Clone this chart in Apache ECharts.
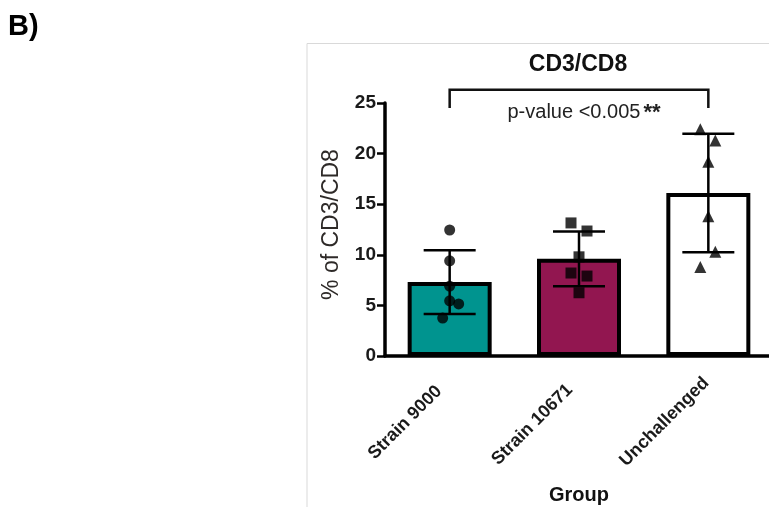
<!DOCTYPE html>
<html>
<head>
<meta charset="utf-8">
<script src="https://cdn.jsdelivr.net/npm/echarts@6/dist/echarts.min.js"></script>
<style>
  html, body { margin: 0; padding: 0; background: #fff; }
  #chart { width: 769px; height: 507px; }
</style>
</head>
<body>
<div id="chart"></div>
<script>
// Groups and summary statistics (% of CD3/CD8)
const categories = ['Strain 9000', 'Strain 10671', 'Unchallenged'];
const means = [7.3, 9.6, 16.1];
const sds = [3.15, 2.7, 5.85];

// Individual animals per group
const pointsStrain9000 = [12.45, 9.4, 6.9, 5.45, 5.15, 3.75];
const pointsStrain10671 = [13.15, 12.35, 9.8, 8.2, 7.9, 6.25];
const pointsUnchallenged = [22.4, 21.3, 19.2, 13.8, 10.3, 8.8];

// Axis ticks
const yTicks = [0, 5, 10, 15, 20, 25];

// Significance annotation between first and last group
const sigPair = [0, 2];
const sigText = 'p-value <0.005';
const sigStars = '**';

// Horizontal jitter (px) so overlapping dots stay visible
const jitter = [
  [0, 0, 0, 0, 9, -7],
  [-8, 8, 0, -8, 8, 0],
  [-8, 7, 0, 0, 7, -8]
];

const FONT = '"Liberation Sans", Arial, sans-serif';
const barColors = ['#00948f', '#921650', '#ffffff'];
// the last category label sits a little further out along its slant
const labelPad = [[0, 15, 0, 0], [0, 13, 0, 0], [0, 3, 0, 0]];

const chart = echarts.init(document.getElementById('chart'), null, { renderer: 'canvas' });

function pointSeries(values, gi, symbol, size) {
  return {
    type: 'scatter',
    symbol: symbol,
    symbolSize: size,
    z: 5,
    itemStyle: { color: '#000' },
    data: values.map((v, i) => ({ value: [gi, v], symbolOffset: [jitter[gi][i], 0] })),
    silent: true
  };
}

const option = {
  animation: false,
  backgroundColor: '#fff',
  grid: { left: 385, top: 103, width: 388, height: 253, containLabel: false, outerBoundsMode: 'none' },
  xAxis: {
    type: 'category',
    data: categories.map((c, i) => ({ value: c, textStyle: { padding: labelPad[i] } })),
    name: 'Group',
    nameLocation: 'middle',
    nameGap: 129,
    nameTextStyle: { fontFamily: FONT, fontSize: 20, fontWeight: 'bold', color: '#111' },
    axisLine: { lineStyle: { color: '#000', width: 3.5 } },
    axisTick: { alignWithLabel: true, length: 10, lineStyle: { color: '#000', width: 3 } },
    axisLabel: {
      rotate: 45,
      margin: 22,
      fontFamily: FONT, fontSize: 18, fontWeight: 'bold', color: '#1a1a1a'
    },
    splitLine: { show: false }
  },
  yAxis: {
    type: 'value',
    min: yTicks[0],
    max: yTicks[yTicks.length - 1],
    interval: yTicks[1] - yTicks[0],
    name: '% of CD3/CD8',
    nameLocation: 'middle',
    nameGap: 42,
    nameTextStyle: { fontFamily: FONT, fontSize: 23, color: '#2e2a28', padding: [0, 0, 0, 10] },
    axisLine: { show: true, lineStyle: { color: '#000', width: 3.5 } },
    axisTick: { show: true, length: 8, lineStyle: { color: '#000', width: 2.5 } },
    axisLabel: { margin: 9, fontFamily: FONT, fontSize: 19, fontWeight: 'bold', color: '#1a1a1a' },
    splitLine: { show: false }
  },
  series: [
    {
      type: 'bar',
      barWidth: 84,
      z: 2,
      data: means.map((m, i) => ({
        value: m,
        itemStyle: { color: barColors[i], borderColor: '#000', borderWidth: 4 }
      })),
      silent: true
    },
    {
      // mean ± SD whiskers
      type: 'custom',
      z: 4,
      silent: true,
      data: means.map((m, i) => [i, m, sds[i]]),
      renderItem: function (params, api) {
        const gi = api.value(0);
        const m = api.value(1);
        const sd = api.value(2);
        const top = api.coord([gi, m + sd]);
        const bot = api.coord([gi, m - sd]);
        const hw = 26;
        const st = { stroke: '#000', lineWidth: 2.5 };
        return {
          type: 'group',
          children: [
            { type: 'line', shape: { x1: top[0], y1: top[1], x2: bot[0], y2: bot[1] }, style: st },
            { type: 'line', shape: { x1: top[0] - hw, y1: top[1], x2: top[0] + hw, y2: top[1] }, style: st },
            { type: 'line', shape: { x1: bot[0] - hw, y1: bot[1], x2: bot[0] + hw, y2: bot[1] }, style: st }
          ]
        };
      }
    },
    pointSeries(pointsStrain9000, 0, 'circle', 11),
    pointSeries(pointsStrain10671, 1, 'rect', 11),
    pointSeries(pointsUnchallenged, 2, 'triangle', 12),
    {
      // significance bracket above the bars
      type: 'custom',
      z: 6,
      silent: true,
      clip: false,
      data: [[sigPair[0], sigPair[1]]],
      renderItem: function (params, api) {
        const a = api.coord([api.value(0), 26.3]);
        const b = api.coord([api.value(1), 26.3]);
        const legs = api.coord([api.value(0), 24.5]);
        const st = { stroke: '#111', lineWidth: 2.5, fill: null };
        const mid = (a[0] + b[0]) / 2;
        return {
          type: 'group',
          children: [
            {
              type: 'polyline',
              shape: { points: [[a[0], legs[1]], [a[0], a[1]], [b[0], b[1]], [b[0], legs[1]]] },
              style: st
            },
            {
              type: 'text',
              x: mid + 5,
              y: a[1] + 23,
              style: {
                text: '{a|' + sigText + '}{b|' + sigStars + '}',
                align: 'center',
                verticalAlign: 'middle',
                rich: {
                  a: { fontFamily: FONT, fontSize: 20, fill: '#222' },
                  b: { fontFamily: FONT, fontSize: 22, fontWeight: 'bold', fill: '#222', padding: [0, 0, 0, 3] }
                }
              }
            }
          ]
        };
      }
    }
  ],
  graphic: [
    {
      type: 'polyline',
      shape: { points: [[307, 507], [307, 43.5], [769, 43.5]] },
      style: { stroke: '#d9d9d9', lineWidth: 1, fill: null },
      silent: true
    },
    {
      type: 'text',
      x: 578, y: 65,
      style: { text: 'CD3/CD8', fontFamily: FONT, fontSize: 23, fontWeight: 'bold', fill: '#111', align: 'center', verticalAlign: 'middle' }
    },
    {
      type: 'text',
      x: 8, y: 27,
      style: { text: 'B)', fontFamily: FONT, fontSize: 29, fontWeight: 'bold', fill: '#000', align: 'left', verticalAlign: 'middle' }
    }
  ]
};

chart.setOption(option);
</script>
</body>
</html>
